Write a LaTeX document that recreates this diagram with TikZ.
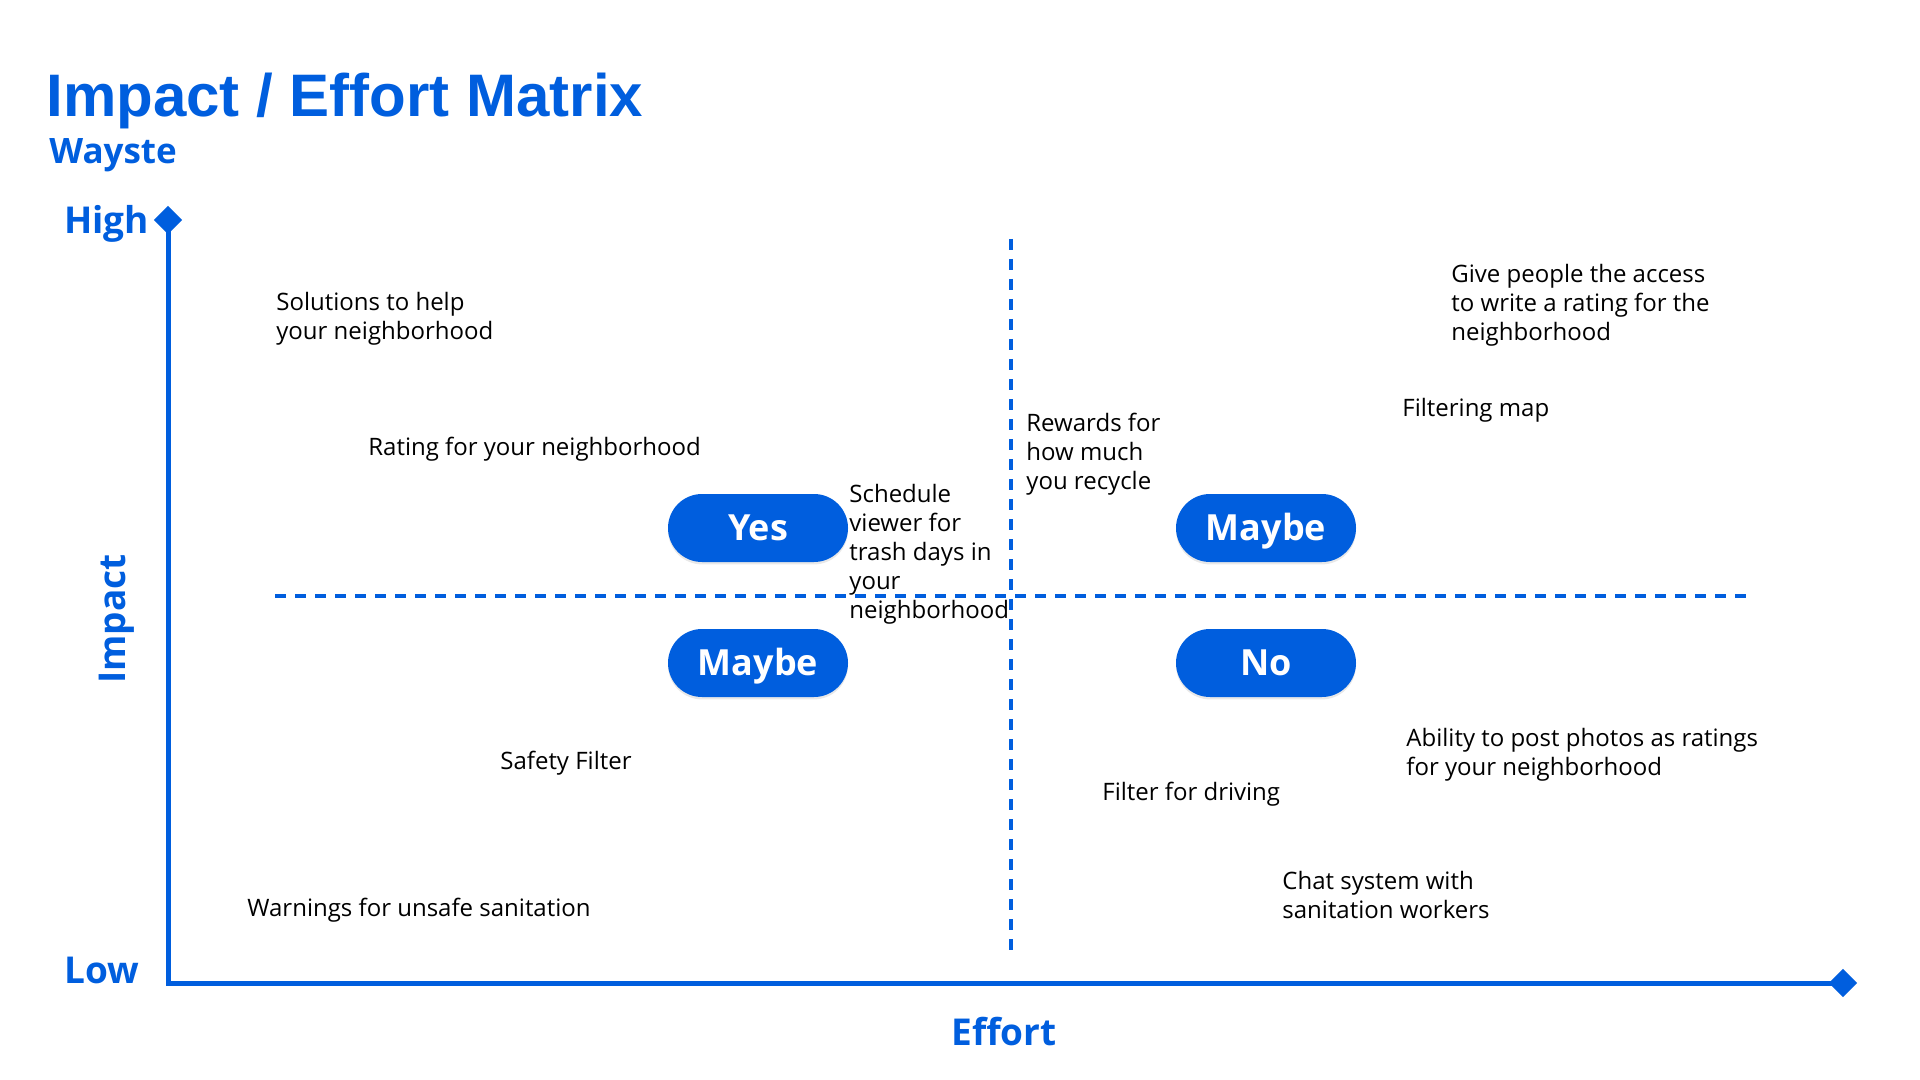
\documentclass[tikz,border=0pt]{standalone}
\usepackage{fontspec}
\setmainfont{Open Sans}
\newfontfamily\headfont{Liberation Sans}
\usetikzlibrary{positioning,shadows}
\definecolor{wblue}{HTML}{005EDE}
\tikzset{
  idea/.style={anchor=north west,inner sep=0pt,align=left,text=black,
    font=\fontsize{12}{14.5}\selectfont},
  pill/.style={fill=wblue,text=white,rounded corners=17pt,minimum width=90pt,
    minimum height=34pt,inner sep=0pt,text height=12.9pt,text depth=0pt,
    font=\bfseries\fontsize{18}{20}\selectfont,
    drop shadow={opacity=0.18,shadow xshift=0pt,shadow yshift=-1.2pt}},
  axlabel/.style={text=wblue,inner sep=0pt,font=\bfseries\fontsize{18.5}{22}\selectfont},
  axis/.style={draw=wblue,line width=2.5pt},
  divider/.style={draw=wblue,line width=2pt,dash pattern=on 5.5pt off 4.5pt},
  tip/.style={fill=wblue,minimum size=10pt,inner sep=0pt,rotate=45}
}
\begin{document}
\begin{tikzpicture}[x=0.5pt,y=-0.5pt]
\useasboundingbox (0,0) rectangle (1920,1080);
% heading
\node[anchor=base west,inner sep=0pt,text=wblue,font=\headfont\bfseries\fontsize{30}{36}\selectfont] (title) at (46,117) {Impact / Effort Matrix};
\node[anchor=base west,axlabel,font=\bfseries\fontsize{17.5}{20}\selectfont] (sub) at (49,164) {Wayste};
% axes
\node[tip] (top) at (168,220) {};
\node[tip] (end) at (1843,983) {};
\coordinate (orig) at (168,983);
\draw[axis] (top.center) -- (orig) -- (end.center);
\node[axlabel,anchor=base west] (high) at (64,234) {High};
\node[axlabel,anchor=base west] (low) at (64,983) {Low};
\node[axlabel,anchor=base] (effort) at (1004,1045) {Effort};
\node[axlabel,anchor=base,rotate=90] (impact) at (125,619) {Impact};
% quadrant dividers
\coordinate (vtop) at (1011,239);
\coordinate (vbot) at (1011,953);
\coordinate (hleft) at (275,596);
\coordinate (hright) at (1749,596);
\draw[divider] (vtop) -- (vbot);
\draw[divider] (hleft) -- (hright);
% quadrant pills
\node[pill] (yes) at (758,528) {Yes};
\node[pill] (maybetop) at (1266,528) {Maybe};
\node[pill] (maybelow) at (758,663) {Maybe};
\node[pill] (no) at (1266,663) {No};
% ideas
\node[idea] (solutions) at (276,292) {Solutions to help\\your neighborhood};
\node[idea] (rating) at (368,437) {Rating for your neighborhood};
\node[idea] (schedule) at (849,484) {Schedule\\viewer for\\trash days in\\your\\neighborhood};
\node[idea] (rewards) at (1026,413) {Rewards for\\how much\\you recycle};
\node[idea] (access) at (1451,264) {Give people the access\\to write a rating for the\\neighborhood};
\node[idea] (filtermap) at (1402,398) {Filtering map};
\node[idea] (safety) at (500,751) {Safety Filter};
\node[idea] (warnings) at (247,898) {Warnings for unsafe sanitation};
\node[idea] (driving) at (1102,782) {Filter for driving};
\node[idea] (photos) at (1406,728) {Ability to post photos as ratings\\for your neighborhood};
\node[idea] (chat) at (1282,871) {Chat system with\\sanitation workers};
\end{tikzpicture}
\end{document}
